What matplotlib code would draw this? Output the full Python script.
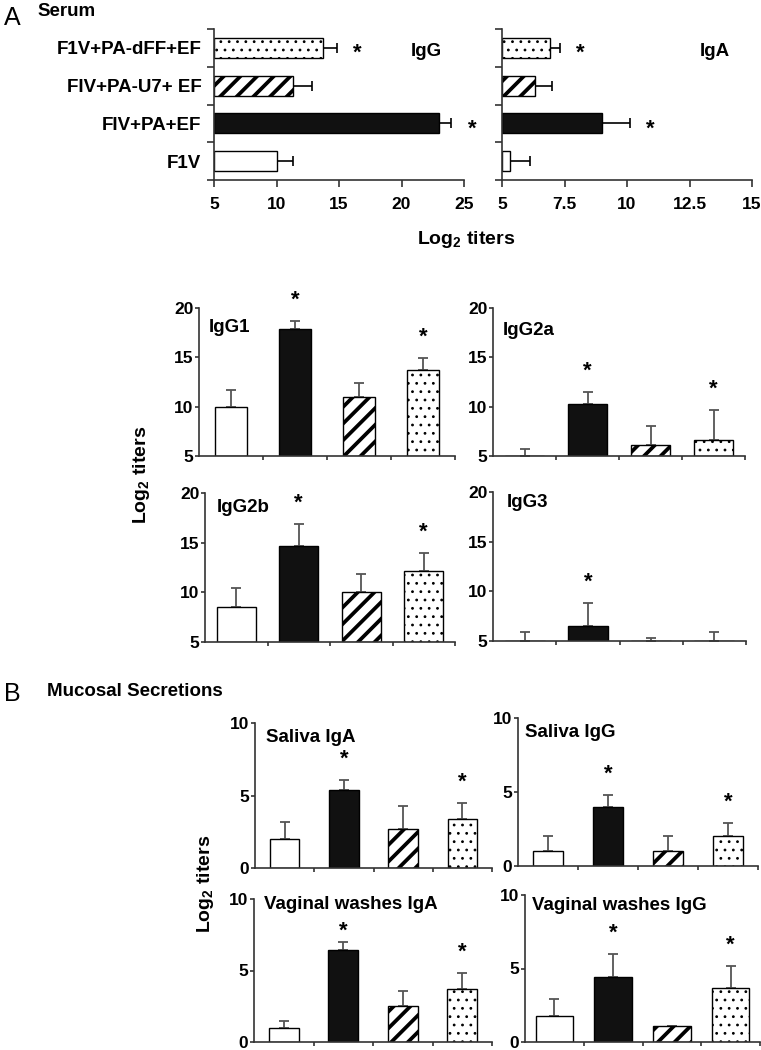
"""Serum and mucosal antibody titers after F1V / PA / EF immunisation."""

import matplotlib

matplotlib.use("Agg")

import matplotlib.pyplot as plt
import numpy as np

plt.rcParams["font.family"] = ["Liberation Sans", "DejaVu Sans"]
plt.rcParams["font.weight"] = "bold"
plt.rcParams["mathtext.fontset"] = "custom"
plt.rcParams["mathtext.rm"] = "Liberation Sans"
plt.rcParams["mathtext.bf"] = "Liberation Sans:bold"

W, H = 761, 1050

# groups, in bar order (bottom-to-top in A, left-to-right elsewhere)
groups = ["F1V", "FIV+PA+EF", "FIV+PA-U7+ EF", "F1V+PA-dFF+EF"]

serum_igg = [10.0, 23.0, 11.3, 13.7]
serum_igg_err = [1.3, 1.0, 1.5, 1.1]
serum_iga = [5.3, 9.0, 6.3, 6.9]
serum_iga_err = [0.8, 1.1, 0.7, 0.4]
serum_sig = [False, True, False, True]

igg1 = [10.0, 17.9, 11.0, 13.7]
igg1_err = [1.7, 0.8, 1.4, 1.2]
igg2a = [5.0, 10.3, 6.1, 6.6]
igg2a_err = [0.7, 1.2, 1.9, 3.1]
igg2b = [8.5, 14.7, 10.0, 12.1]
igg2b_err = [1.9, 2.2, 1.8, 1.9]
igg3 = [5.0, 6.5, 5.0, 5.0]
igg3_err = [0.9, 2.3, 0.3, 0.9]

saliva_iga = [2.0, 5.4, 2.7, 3.4]
saliva_iga_err = [1.2, 0.7, 1.6, 1.1]
saliva_igg = [1.0, 4.0, 1.0, 2.0]
saliva_igg_err = [1.0, 0.8, 1.0, 0.9]
vaginal_iga = [1.0, 6.4, 2.5, 3.7]
vaginal_iga_err = [0.5, 0.6, 1.1, 1.1]
vaginal_igg = [1.75, 4.4, 1.1, 3.7]
vaginal_igg_err = [1.15, 1.6, 0.0, 1.5]

sig_both = [False, True, False, True]
sig_black = [False, True, False, False]

FILLS = ["white", "#111111", "white", "white"]
HATCHES = [None, None, "//", ".."]
HATCH_LW = [1.0, 1.0, 2.7, 0.8]
AXC = "#333333"


def px_axes(fig, x0, y0, x1, y1):
    return fig.add_axes([x0 / W, 1 - y1 / H, (x1 - x0) / W, (y1 - y0) / H])


def style(ax):
    for side in ("top", "right"):
        ax.spines[side].set_visible(False)
    for side in ("left", "bottom"):
        ax.spines[side].set_color(AXC)
        ax.spines[side].set_linewidth(1.2)
    ax.tick_params(colors=AXC, labelcolor="black", width=1.2)


def add_bar(ax, i, val, base, size, horizontal):
    with plt.rc_context({"hatch.linewidth": HATCH_LW[i]}):
        if horizontal:
            bars = ax.barh(i, val - base, left=base, height=size, color=FILLS[i],
                           edgecolor="black", linewidth=1.0, hatch=HATCHES[i], zorder=2)
        else:
            bars = ax.bar(i, val - base, bottom=base, width=size, color=FILLS[i],
                          edgecolor="black", linewidth=1.0, hatch=HATCHES[i], zorder=2)
    for b in bars:
        if hasattr(b, "set_hatch_linewidth"):
            b.set_hatch_linewidth(HATCH_LW[i])


def serum_panel(ax, vals, errs, sig, xmax, xticks, xlabels, name, show_labels):
    style(ax)
    y = np.arange(len(vals))
    vals = np.asarray(vals)
    for i in y:
        add_bar(ax, i, vals[i], 5, 0.53, True)
    ax.errorbar(vals, y, xerr=[np.zeros(len(vals)), errs], fmt="none",
                ecolor="black", elinewidth=1.2, capsize=3.5, capthick=1.2, zorder=1)
    for i in y:
        if sig[i]:
            ax.annotate("*", xy=(vals[i] + errs[i], i), xytext=(15, -8),
                        textcoords="offset points", ha="center", va="baseline",
                        fontsize=16, annotation_clip=False)
    ax.set_xlim(5, xmax)
    ax.set_ylim(-0.5, 3.5)
    ax.set_xticks(xticks)
    ax.set_xticklabels(xlabels, fontsize=12.5)
    ax.tick_params(axis="x", length=5, pad=7)
    ax.set_yticks(np.arange(-0.5, 4.0, 1.0))
    ax.set_yticklabels([])
    ax.tick_params(axis="y", length=5)
    ax.set_yticks(y, minor=True)
    ax.tick_params(axis="y", which="minor", length=0, pad=9)
    if show_labels:
        ax.set_yticklabels(groups, minor=True, fontsize=13.5)
    else:
        ax.set_yticklabels([], minor=True)
    ax.text(0.85, 0.85, name, transform=ax.transAxes, ha="center", va="center",
            fontsize=13.5)


def column_panel(ax, vals, errs, sig, base, top, yticks, name, name_xy, width,
                 star_gap=11):
    style(ax)
    x = np.arange(len(vals))
    vals = np.asarray(vals)
    for i in x:
        add_bar(ax, i, vals[i], base, width, False)
    ax.errorbar(x, vals, yerr=[np.zeros(len(vals)), errs], fmt="none",
                ecolor="#555555", elinewidth=1.3, capsize=3.5, capthick=1.3, zorder=1)
    for i in x:
        if sig[i]:
            gap = star_gap if i == 1 else 11
            ax.annotate("*", xy=(i, vals[i] + errs[i]), xytext=(0, gap),
                        textcoords="offset points", ha="center", va="baseline",
                        fontsize=16, annotation_clip=False)
    ax.set_xlim(-0.5, 3.5)
    ax.set_ylim(base, top)
    ax.set_xticks([0.5, 1.5, 2.5, 3.5])
    ax.set_xticklabels([])
    ax.tick_params(axis="x", length=3)
    ax.set_yticks(yticks)
    ax.set_yticklabels([f"{t:g}" for t in yticks], fontsize=12.5)
    ax.tick_params(axis="y", length=3, pad=1)
    ax.text(name_xy[0], name_xy[1], name, transform=ax.transAxes, ha="left",
            va="center", fontsize=13.5)


def fig_text(fig, x, y, s, **kw):
    fig.text(x / W, 1 - y / H, s, **kw)


def main():
    fig = plt.figure(figsize=(W / 100, H / 100), dpi=100)

    # A: serum IgG / IgA
    ax = px_axes(fig, 214, 29, 464, 180)
    serum_panel(ax, serum_igg, serum_igg_err, serum_sig, 25,
                [5, 10, 15, 20, 25], ["5", "10", "15", "20", "25"], "IgG", True)
    ax = px_axes(fig, 502, 29, 752, 180)
    serum_panel(ax, serum_iga, serum_iga_err, serum_sig, 15,
                [5, 7.5, 10, 12.5, 15], ["5", "7.5", "10", "12.5", "15"], "IgA", False)

    # A: IgG subclasses
    sub_ticks = [5, 10, 15, 20]
    column_panel(px_axes(fig, 199, 308, 455, 456), igg1, igg1_err, sig_both,
                 5, 20, sub_ticks, "IgG1", (0.04, 0.865), 0.5)
    column_panel(px_axes(fig, 493, 308, 745, 456), igg2a, igg2a_err, sig_both,
                 5, 20, sub_ticks, "IgG2a", (0.04, 0.85), 0.63)
    column_panel(px_axes(fig, 205, 493, 455, 642), igg2b, igg2b_err, sig_both,
                 5, 20, sub_ticks, "IgG2b", (0.045, 0.9), 0.63)
    column_panel(px_axes(fig, 493, 492, 746, 641), igg3, igg3_err, sig_black,
                 5, 20, sub_ticks, "IgG3", (0.055, 0.93), 0.63)

    # B: mucosal secretions
    muc_ticks = [0, 5, 10]
    column_panel(px_axes(fig, 255, 723, 492, 868), saliva_iga, saliva_iga_err,
                 sig_both, 0, 10, muc_ticks, "Saliva IgA", (0.045, 0.9), 0.5)
    column_panel(px_axes(fig, 518, 718, 758, 866), saliva_igg, saliva_igg_err,
                 sig_both, 0, 10, muc_ticks, "Saliva IgG", (0.03, 0.9), 0.51)
    column_panel(px_axes(fig, 254, 899, 492, 1042), vaginal_iga, vaginal_iga_err,
                 sig_both, 0, 10, muc_ticks, "Vaginal washes IgA", (0.04, 0.96), 0.51,
                 star_gap=4)
    column_panel(px_axes(fig, 525, 895, 760, 1042), vaginal_igg, vaginal_igg_err,
                 sig_both, 0, 10, muc_ticks, "Vaginal washes IgG", (0.03, 0.93), 0.64)

    # headings and shared axis labels
    fig_text(fig, 4, 18, "A", fontsize=18, fontweight="normal", va="center")
    fig_text(fig, 37, 11, "Serum", fontsize=13.5, va="center")
    fig_text(fig, 466, 240, r"Log$_\mathbf{2}$ titers", fontsize=14,
             ha="center", va="center")
    fig_text(fig, 142, 475, r"Log$_\mathbf{2}$ titers", fontsize=14,
             ha="center", va="center", rotation=90)
    fig_text(fig, 4, 694, "B", fontsize=18, fontweight="normal", va="center")
    fig_text(fig, 47, 691, "Mucosal Secretions", fontsize=13.5, va="center")
    fig_text(fig, 206, 884, r"Log$_\mathbf{2}$ titers", fontsize=14,
             ha="center", va="center", rotation=90)

    fig.savefig("out.png", dpi=100)
    plt.close(fig)


if __name__ == "__main__":
    main()
